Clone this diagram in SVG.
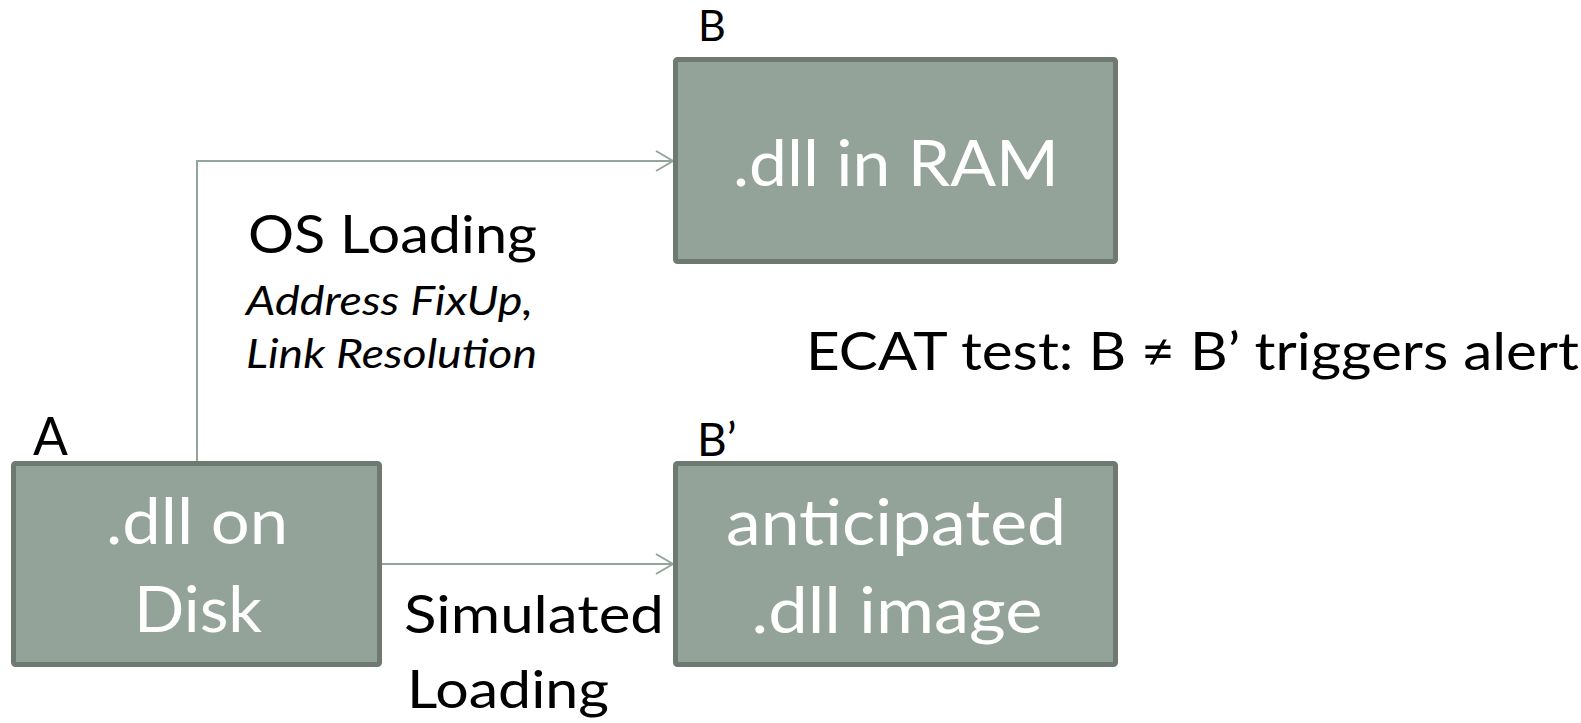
<svg xmlns="http://www.w3.org/2000/svg" width="1581" height="723" viewBox="0 0 1581 723">
  <style>
    .box { fill: #93a399; stroke: #6e7a71; stroke-width: 5; }
    .boxtext { font-family: Lato, "Open Sans", "Liberation Sans", sans-serif; font-size: 64.7px; fill: #ffffff; text-anchor: middle; }
    .label { font-family: Lato, "Open Sans", "Liberation Sans", sans-serif; fill: #000000; }
    .big { font-size: 51.6px; }
    .note { font-size: 41.5px; font-style: italic; }
    .conn { fill: none; stroke: #94a59b; stroke-width: 2; }
  </style>
  <defs>
    <marker id="chevron" markerUnits="userSpaceOnUse" markerWidth="24" markerHeight="26" viewBox="-20 -13 24 26" refX="0" refY="0" orient="auto">
      <path d="M-17,-10 L0,0 L-17,10" fill="none" stroke="#94a59b" stroke-width="2"/>
    </marker>
  </defs>
  <rect width="1581" height="723" fill="#ffffff"/>

  <!-- connectors -->
  <g id="connectors">
    <path class="conn" d="M197,461 V161 H673" marker-end="url(#chevron)"/>
    <path class="conn" d="M382,564 H673" marker-end="url(#chevron)"/>
  </g>

  <!-- A: file on disk -->
  <g id="node-a">
    <rect class="box" x="13.5" y="463.5" width="366" height="201" rx="2"/>
    <text class="boxtext" x="197" y="543.5" textLength="182" lengthAdjust="spacingAndGlyphs">.dll on</text>
    <text class="boxtext" x="198" y="631.5" textLength="128" lengthAdjust="spacingAndGlyphs">Disk</text>
    <text class="label big" x="33" y="455">A</text>
  </g>

  <!-- B: loaded image in memory -->
  <g id="node-b">
    <rect class="box" x="675.5" y="59.5" width="440" height="202" rx="2"/>
    <text class="boxtext" x="896" y="186" textLength="326" lengthAdjust="spacingAndGlyphs">.dll in RAM</text>
    <text class="label" x="698" y="40.7" font-size="43">B</text>
  </g>

  <!-- B': simulated image -->
  <g id="node-b-prime">
    <rect class="box" x="675.5" y="463.5" width="440" height="201" rx="2"/>
    <text class="boxtext" x="896" y="545" textLength="340" lengthAdjust="spacingAndGlyphs">anticipated</text>
    <text class="boxtext" x="897" y="633" textLength="291" lengthAdjust="spacingAndGlyphs">.dll image</text>
    <text class="label" x="697" y="456" font-size="46">B’</text>
  </g>

  <!-- edge labels -->
  <g id="os-loading-label">
    <text class="label big" x="248" y="253.3" textLength="289" lengthAdjust="spacingAndGlyphs">OS Loading</text>
    <text class="label note" x="246" y="315" textLength="287" lengthAdjust="spacingAndGlyphs">Address FixUp,</text>
    <text class="label note" x="246" y="368.3" textLength="291" lengthAdjust="spacingAndGlyphs">Link Resolution</text>
  </g>
  <g id="simulated-loading-label">
    <text class="label big" x="404" y="633.3" textLength="260" lengthAdjust="spacingAndGlyphs">Simulated</text>
    <text class="label big" x="407" y="708.3" textLength="202" lengthAdjust="spacingAndGlyphs">Loading</text>
  </g>

  <!-- test rule -->
  <g id="ecat-note">
    <text class="label big" x="806" y="370" textLength="773" lengthAdjust="spacingAndGlyphs">ECAT test: B ≠ B’ triggers alert</text>
  </g>
</svg>
